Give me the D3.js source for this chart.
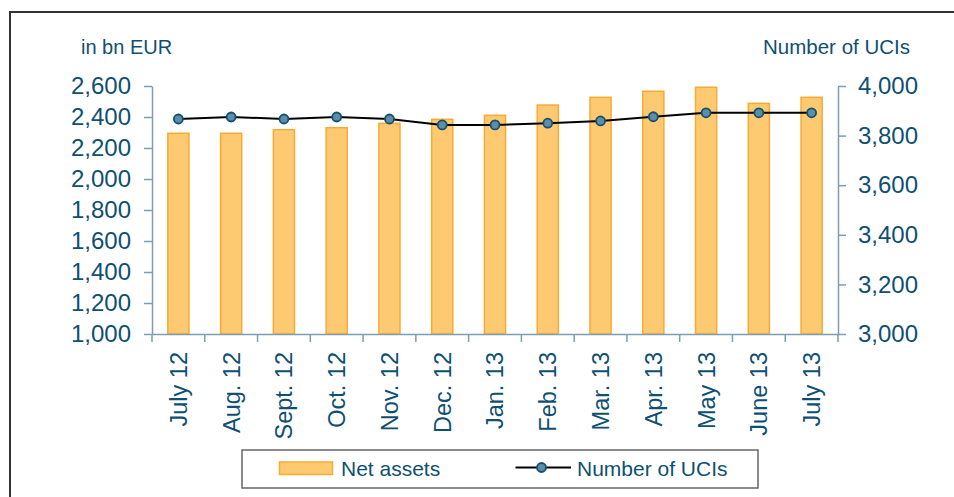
<!DOCTYPE html>
<html>
<head>
<meta charset="utf-8">
<script src="https://cdn.jsdelivr.net/npm/d3@7"></script>
<style>
  html, body { margin: 0; padding: 0; background: #fff; }
  svg { display: block; font-family: "Liberation Sans", Arial, sans-serif; }
</style>
</head>
<body>
<svg id="chart" width="954" height="497"></svg>
<script>
const categories = ["July 12","Aug. 12","Sept. 12","Oct. 12","Nov. 12","Dec. 12","Jan. 13","Feb. 13","Mar. 13","Apr. 13","May 13","June 13","July 13"];
const netAssets = [2295, 2295, 2318, 2331, 2359, 2385, 2411, 2477, 2527, 2566, 2592, 2488, 2527];
const numberUCIs = [3867, 3875, 3867, 3875, 3867, 3843, 3843, 3850, 3859, 3876, 3892, 3892, 3892];
const leftTicks = [1000, 1200, 1400, 1600, 1800, 2000, 2200, 2400, 2600];
const rightTicks = [3000, 3200, 3400, 3600, 3800, 4000];

const textColor = "#0f5072";
const axisColor = "#7d9eb0";
const barFill = "#fdca72";
const barStroke = "#f9aa35";
const dotFill = "#5b8ea8";
const dotStroke = "#17506f";

const svg = d3.select("#chart");

// outer frame
svg.append("rect")
  .attr("x", 10).attr("y", 12).attr("width", 960).attr("height", 500)
  .attr("fill", "none").attr("stroke", "#333").attr("stroke-width", 2);

const plotL = 152, plotR = 838, plotT = 86, plotB = 334;

const x = d3.scaleBand().domain(categories).range([plotL, plotR]).paddingInner(0.6).paddingOuter(0.3);
const yL = d3.scaleLinear().domain([1000, 2600]).range([plotB, plotT]);
const yR = d3.scaleLinear().domain([3000, 4000]).range([plotB, plotT]);

const fmt = d3.format(",");

// bars
svg.append("g").selectAll("rect").data(netAssets).join("rect")
  .attr("x", (d, i) => x(categories[i]))
  .attr("y", d => yL(d))
  .attr("width", x.bandwidth())
  .attr("height", d => yL(1000) - yL(d))
  .attr("fill", barFill).attr("stroke", barStroke).attr("stroke-width", 1.5);

// left axis
const gL = svg.append("g").attr("transform", `translate(${plotL},0)`)
  .call(d3.axisLeft(yL).tickValues(leftTicks).tickFormat(fmt).tickSize(8).tickSizeOuter(0).tickPadding(13));
gL.select(".domain").attr("stroke", axisColor).attr("stroke-width", 1.5);
gL.selectAll(".tick line").attr("stroke", axisColor).attr("stroke-width", 1.5);
gL.selectAll(".tick text").attr("fill", textColor).attr("font-size", 24).attr("font-family", "Liberation Sans, Arial, sans-serif");

// right axis
const gR = svg.append("g").attr("transform", `translate(${plotR},0)`)
  .call(d3.axisRight(yR).tickValues(rightTicks).tickFormat(fmt).tickSize(8).tickSizeOuter(0).tickPadding(12));
gR.select(".domain").attr("stroke", axisColor).attr("stroke-width", 1.5);
gR.selectAll(".tick line").attr("stroke", axisColor).attr("stroke-width", 1.5);
gR.selectAll(".tick text").attr("fill", textColor).attr("font-size", 24).attr("font-family", "Liberation Sans, Arial, sans-serif");

// x axis
const gX = svg.append("g").attr("transform", `translate(0,${plotB})`)
  .call(d3.axisBottom(x).tickSize(0).tickSizeOuter(0));
gX.select(".domain").attr("stroke", axisColor).attr("stroke-width", 1.5);
gX.selectAll(".tick text")
  .attr("fill", textColor).attr("font-size", 23.5).attr("font-family", "Liberation Sans, Arial, sans-serif")
  .attr("transform", "rotate(-90)")
  .attr("text-anchor", "end")
  .attr("x", -18).attr("y", 0).attr("dy", "0.36em");
// category boundary ticks
const edges = d3.range(categories.length + 1).map(i => plotL + i * (plotR - plotL) / categories.length);
svg.append("g").selectAll("line").data(edges).join("line")
  .attr("x1", d => d).attr("x2", d => d)
  .attr("y1", plotB).attr("y2", plotB + 8)
  .attr("stroke", axisColor).attr("stroke-width", 1.5);

// line
const cx = i => x(categories[i]) + x.bandwidth() / 2;
const line = d3.line().x((d, i) => cx(i)).y(d => yR(d));
svg.append("path").datum(numberUCIs)
  .attr("d", line).attr("fill", "none").attr("stroke", "#000").attr("stroke-width", 2);
svg.append("g").selectAll("circle").data(numberUCIs).join("circle")
  .attr("cx", (d, i) => cx(i)).attr("cy", d => yR(d)).attr("r", 4.5)
  .attr("fill", dotFill).attr("stroke", dotStroke).attr("stroke-width", 1.8);

// axis titles
svg.append("text").attr("x", 81).attr("y", 54).attr("fill", textColor)
  .attr("font-size", 20).text("in bn EUR");
svg.append("text").attr("x", 910).attr("y", 54).attr("text-anchor", "end").attr("fill", textColor)
  .attr("font-size", 20.5).text("Number of UCIs");

// legend
const lg = svg.append("g");
lg.append("rect").attr("x", 242).attr("y", 450).attr("width", 516).attr("height", 38)
  .attr("fill", "#fff").attr("stroke", "#666").attr("stroke-width", 1.5);
lg.append("rect").attr("x", 279.5).attr("y", 462).attr("width", 53).attr("height", 12.5)
  .attr("fill", barFill).attr("stroke", barStroke).attr("stroke-width", 1.5);
lg.append("text").attr("x", 341).attr("y", 476).attr("fill", textColor).attr("font-size", 21).text("Net assets");
lg.append("line").attr("x1", 515.5).attr("x2", 571).attr("y1", 467.5).attr("y2", 467.5)
  .attr("stroke", "#000").attr("stroke-width", 2);
lg.append("circle").attr("cx", 541.5).attr("cy", 467.5).attr("r", 4.5)
  .attr("fill", dotFill).attr("stroke", dotStroke).attr("stroke-width", 1.8);
lg.append("text").attr("x", 577).attr("y", 476).attr("fill", textColor).attr("font-size", 21).text("Number of UCIs");
</script>
</body>
</html>
